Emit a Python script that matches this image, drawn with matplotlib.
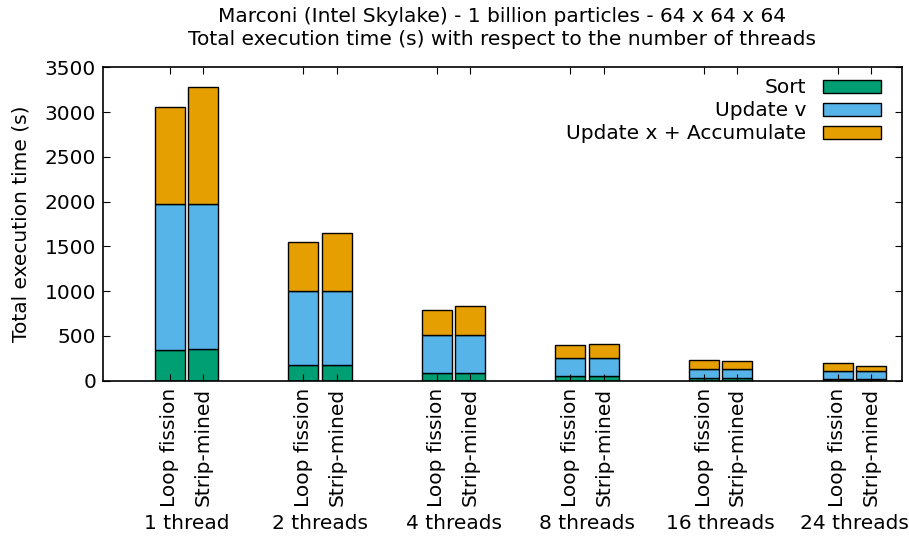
import numpy as np
import matplotlib
matplotlib.use('Agg')
import matplotlib.pyplot as plt

# Data
groups = ['1 thread', '2 threads', '4 threads', '8 threads', '16 threads', '24 threads']
variants = ['Loop fission', 'Strip-mined']
sort_t = [343, 351, 179, 179, 89, 89, 52, 52, 30, 30, 22, 22]
updv_t = [1630, 1624, 826, 826, 418, 418, 201, 201, 104, 104, 83, 83]
updx_t = [1080, 1302, 541, 641, 279, 324, 142, 160, 97, 86, 89, 63]
series_names = ['Sort', 'Update v', 'Update x + Accumulate']
colors = ['#009E73', '#56B4E9', '#E69F00']

plt.rcParams['font.family'] = 'DejaVu Sans'
plt.rcParams['font.size'] = 14.5

fig = plt.figure(figsize=(9.09, 5.38), dpi=100)
ax = fig.add_axes([103/909, 1-380.7/538, (901.7-103)/909, (380.7-67.3)/538])

# bar positions: 2 bars per group, gap of 2 units
xpos = np.array([4*g + v for g in range(len(groups)) for v in range(len(variants))])
bottom = np.zeros(len(xpos))
for vals, name, c in zip([sort_t, updv_t, updx_t], series_names, colors):
    ax.bar(xpos, vals, width=0.9, bottom=bottom, color=c, edgecolor='black',
           linewidth=1.0, label=name)
    bottom += np.array(vals)

ax.set_xlim(-2, 21.92)
ax.set_ylim(0, 3500)
ax.set_yticks(np.arange(0, 3501, 500))
ax.set_xticks(xpos)
ax.set_xticklabels(variants * len(groups), rotation=90)
ax.set_xticks([4*g + 0.5 for g in range(len(groups))], minor=True)
ax.set_xticklabels(groups, minor=True)
ax.tick_params(axis='x', which='major', direction='in', top=True, bottom=True,
               length=5, pad=5)
ax.tick_params(axis='x', which='minor', length=0, pad=96)
ax.tick_params(axis='y', direction='in', left=True, right=True, length=5, pad=5)
for s in ax.spines.values():
    s.set_linewidth(1.2)

ax.set_ylabel('Total execution time (s)', labelpad=10)
ax.set_title('Marconi (Intel Skylake) - 1 billion particles - 64 x 64 x 64\n'
             'Total execution time (s) with respect to the number of threads',
             fontsize=14.5, pad=16, linespacing=1.3)

ax.legend(loc='upper right', bbox_to_anchor=(0.988, 1.0), frameon=False,
          markerfirst=False, handlelength=2.9, handleheight=0.6,
          labelspacing=0.2, handletextpad=0.8, borderaxespad=0.15)

fig.savefig('out.png', dpi=100)
